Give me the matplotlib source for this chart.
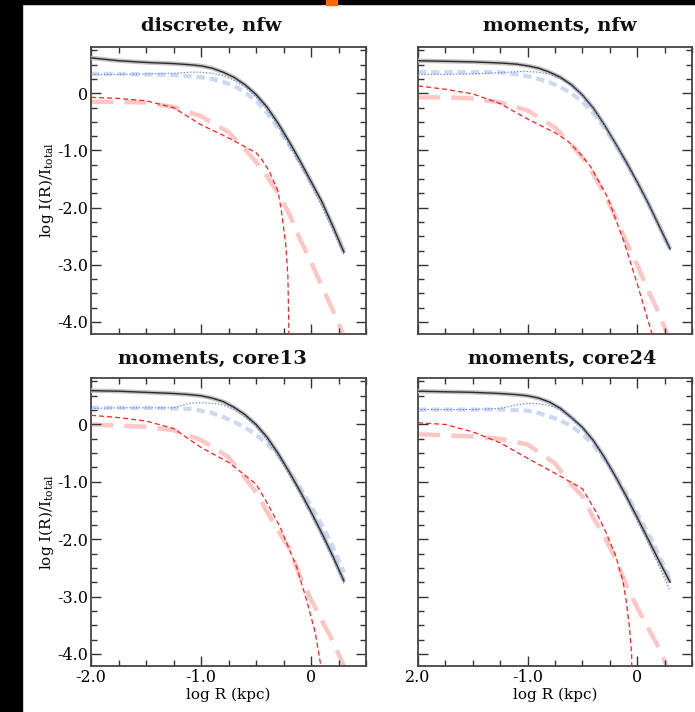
import matplotlib
matplotlib.use("Agg")
import matplotlib.pyplot as plt
from matplotlib.patches import Rectangle
from matplotlib.ticker import MultipleLocator

plt.rcParams['font.family'] = ['DejaVu Serif']
plt.rcParams['mathtext.fontset'] = 'dejavuserif'
plt.rcParams['lines.scale_dashes'] = False

# panel titles
titles = ['discrete, nfw', 'moments, nfw', 'moments, core13', 'moments, core24']

# common radius grid for the total / blue profiles (log R, kpc)
r_grid = [-2.0, -1.75, -1.5, -1.25, -1.1, -1.0, -0.9, -0.8, -0.7, -0.6, -0.5,
          -0.4, -0.3, -0.2, -0.1, 0.0, 0.1, 0.2, 0.3]

# total profile (black with grey band)
tot_dn = [0.62, 0.57, 0.54, 0.52, 0.50, 0.48, 0.44, 0.37, 0.28, 0.15, -0.02,
          -0.24, -0.52, -0.84, -1.18, -1.54, -1.9, -2.33, -2.78]
tot_mn = [0.57, 0.56, 0.55, 0.53, 0.51, 0.48, 0.44, 0.37, 0.28, 0.15, -0.03,
          -0.26, -0.55, -0.87, -1.2, -1.55, -1.92, -2.32, -2.72]
tot_c13 = [0.59, 0.58, 0.56, 0.54, 0.52, 0.50, 0.46, 0.40, 0.30, 0.17, 0.0,
           -0.22, -0.5, -0.82, -1.16, -1.52, -1.9, -2.3, -2.73]
tot_c24 = [0.58, 0.57, 0.56, 0.54, 0.52, 0.50, 0.46, 0.39, 0.28, 0.12, -0.05,
           -0.28, -0.57, -0.9, -1.25, -1.62, -2.0, -2.38, -2.75]

# blue dotted profile
blue_dn = [0.33, 0.33, 0.34, 0.35, 0.37, 0.37, 0.35, 0.31, 0.23, 0.11, -0.06,
           -0.28, -0.57, -0.9, -1.24, -1.6, -1.98, -2.4, -2.83]
blue_mn = [0.33, 0.33, 0.34, 0.36, 0.38, 0.38, 0.37, 0.33, 0.25, 0.13, -0.04,
           -0.27, -0.56, -0.88, -1.22, -1.57, -1.94, -2.34, -2.75]
blue_c13 = [0.28, 0.29, 0.29, 0.29, 0.37, 0.38, 0.37, 0.34, 0.26, 0.13, -0.04,
            -0.27, -0.55, -0.87, -1.21, -1.57, -1.95, -2.35, -2.77]
blue_c24 = [0.26, 0.26, 0.26, 0.28, 0.34, 0.37, 0.36, 0.33, 0.25, 0.11, -0.07,
            -0.3, -0.6, -0.93, -1.29, -1.67, -2.06, -2.47, -2.9]

# light blue thick dashed profile
lblue_dn = [0.34, 0.34, 0.33, 0.32, 0.30, 0.28, 0.25, 0.20, 0.13, 0.02, -0.13,
            -0.34, -0.6, -0.9, -1.22, -1.56, -1.92, -2.32, -2.74]
lblue_mn = [0.37, 0.37, 0.37, 0.37, 0.33, 0.30, 0.25, 0.19, 0.11, 0.0, -0.15,
            -0.35, -0.6, -0.9, -1.22, -1.56, -1.92, -2.32, -2.73]
lblue_c13 = [0.29, 0.29, 0.29, 0.28, 0.27, 0.24, 0.2, 0.13, 0.05, -0.05, -0.18,
             -0.33, -0.54, -0.8, -1.1, -1.42, -1.76, -2.14, -2.58]
lblue_c24 = [0.26, 0.26, 0.26, 0.26, 0.25, 0.24, 0.2, 0.14, 0.07, -0.03, -0.17,
             -0.36, -0.6, -0.88, -1.2, -1.55, -1.9, -2.28, -2.7]

# red thin dashed profile
red_dn_x = [-2.0, -1.75, -1.5, -1.25, -1.0, -0.75, -0.5, -0.45, -0.38, -0.3,
            -0.27, -0.23, -0.21, -0.2]
red_dn_y = [-0.07, -0.09, -0.13, -0.25, -0.55, -0.78, -1.04, -1.15, -1.36,
            -1.71, -2.05, -2.63, -3.2, -4.3]
red_mn_x = [-2.0, -1.75, -1.5, -1.25, -1.0, -0.75, -0.63, -0.5, -0.42, -0.27,
            -0.12, 0.0, 0.09, 0.15]
red_mn_y = [0.13, 0.07, -0.01, -0.18, -0.45, -0.69, -0.84, -1.1, -1.3, -1.82,
            -2.6, -3.33, -3.92, -4.3]
red_c13_x = [-2.0, -1.75, -1.5, -1.25, -1.0, -0.75, -0.65, -0.5, -0.41, -0.28,
             -0.13, -0.04, 0.04, 0.08, 0.1]
red_c13_y = [0.16, 0.12, 0.06, -0.07, -0.4, -0.66, -0.81, -1.04, -1.33, -1.79,
             -2.49, -3.06, -3.64, -4.1, -4.3]
red_c24_x = [-2.0, -1.75, -1.5, -1.25, -1.0, -0.75, -0.62, -0.5, -0.38, -0.29,
             -0.2, -0.13, -0.1, -0.07, -0.05, -0.05]
red_c24_y = [0.03, 0.0, -0.13, -0.32, -0.59, -0.85, -0.99, -1.12, -1.51, -1.86,
             -2.27, -2.73, -3.08, -3.55, -4.02, -4.3]

# pink thick long-dashed profile
pink_x = [-2.0, -1.75, -1.5, -1.25, -1.0, -0.75, -0.6, -0.5, -0.4, -0.3, -0.2,
          -0.1, 0.0, 0.1, 0.2, 0.3]
pink_dn = [-0.15, -0.15, -0.16, -0.24, -0.4, -0.68, -0.98, -1.2, -1.45, -1.75,
           -2.1, -2.55, -2.95, -3.38, -3.8, -4.25]
pink_mn = [-0.07, -0.07, -0.09, -0.16, -0.3, -0.6, -0.9, -1.12, -1.42, -1.75,
           -2.15, -2.6, -3.0, -3.45, -3.85, -4.35]
pink_c13 = [0.0, -0.02, -0.04, -0.1, -0.27, -0.57, -0.93, -1.18, -1.52, -1.85,
            -2.15, -2.65, -3.05, -3.42, -3.78, -4.22]
pink_c24 = [-0.17, -0.19, -0.21, -0.25, -0.35, -0.68, -1.05, -1.25, -1.63,
            -1.95, -2.33, -2.8, -3.19, -3.55, -3.9, -4.35]

totals = [tot_dn, tot_mn, tot_c13, tot_c24]
blues = [blue_dn, blue_mn, blue_c13, blue_c24]
lblues = [lblue_dn, lblue_mn, lblue_c13, lblue_c24]
reds = [(red_dn_x, red_dn_y), (red_mn_x, red_mn_y),
        (red_c13_x, red_c13_y), (red_c24_x, red_c24_y)]
pinks = [pink_dn, pink_mn, pink_c13, pink_c24]

y_ticks = [0, -1, -2, -3, -4]
y_ticklabels = ['0', '-1.0', '-2.0', '-3.0', '-4.0']
x_ticks = [-2, -1, 0]
x_ticklabels_left = ['-2.0', '-1.0', '0']
x_ticklabels_right = ['2.0', '-1.0', '0']

W, H = 695, 712
fig = plt.figure(figsize=(W / 100, H / 100), dpi=100)

# axes boxes in pixels: (left, top, right, bottom)
boxes = [(91, 47, 366, 334), (418, 47, 692, 334),
         (91, 378, 366, 666), (418, 378, 692, 666)]
title_pos = [(211, 26), (560, 26), (212, 359), (562, 359)]

for i, (l, t, r, b) in enumerate(boxes):
    ax = fig.add_axes([l / W, 1 - b / H, (r - l) / W, (b - t) / H])
    ax.plot(pink_x, pinks[i], color='#ffc6c6', lw=3.2, dashes=(16, 8), zorder=1)
    ax.plot(r_grid, lblues[i], color='#cdd9f3', lw=3.0, dashes=(6, 3.5), zorder=2)
    ax.plot(r_grid, totals[i], color='#c4c4c4', lw=3.2, zorder=3,
            solid_capstyle='butt')
    ax.plot(r_grid, totals[i], color='#2a2a2a', lw=1.0, zorder=4)
    ax.plot(r_grid, blues[i], color='#5b7ee6', lw=0.8, dashes=(1, 1.3), zorder=5)
    ax.plot(reds[i][0], reds[i][1], color='#ff2020', lw=0.9, dashes=(3.6, 2.2),
            zorder=6)

    ax.set_xlim(-2.0, 0.5)
    ax.set_ylim(-4.21, 0.81)
    ax.xaxis.set_minor_locator(MultipleLocator(0.25))
    ax.yaxis.set_minor_locator(MultipleLocator(0.25))
    ax.set_xticks(x_ticks)
    ax.set_yticks(y_ticks)
    ax.tick_params(which='both', direction='in', top=True, right=True,
                   color='#333333', width=1.0, labelsize=11.5, pad=2)
    ax.tick_params(which='major', length=7)
    ax.tick_params(which='minor', length=4.5)
    for s in ax.spines.values():
        s.set_linewidth(1.3)
        s.set_color('#444444')

    if i % 2 == 0:
        ax.set_yticklabels(y_ticklabels)
        ax.set_ylabel(r'log I(R)/I$_{\rm total}$', fontsize=11, labelpad=1)
    else:
        ax.set_yticklabels([])
    if i >= 2:
        ax.set_xticklabels(x_ticklabels_left if i == 2 else x_ticklabels_right)
        ax.set_xlabel('log R (kpc)', fontsize=11, labelpad=1)
    else:
        ax.set_xticklabels([])

    fig.text(title_pos[i][0] / W, 1 - title_pos[i][1] / H, titles[i],
             ha='center', va='center', fontsize=14, fontweight='bold',
             color='#111111')

# black frame strips and orange marker of the original screenshot
fig.patches.append(Rectangle((0, 0), 22 / W, 1, transform=fig.transFigure,
                             color='black', zorder=10))
fig.patches.append(Rectangle((0, 1 - 4 / H), 1, 4 / H, transform=fig.transFigure,
                             color='black', zorder=10))
fig.patches.append(Rectangle((326 / W, 1 - 5 / H), 11 / W, 5 / H,
                             transform=fig.transFigure, color='#ff6a00', zorder=11))

fig.savefig('out.png', dpi=100, facecolor='white')
